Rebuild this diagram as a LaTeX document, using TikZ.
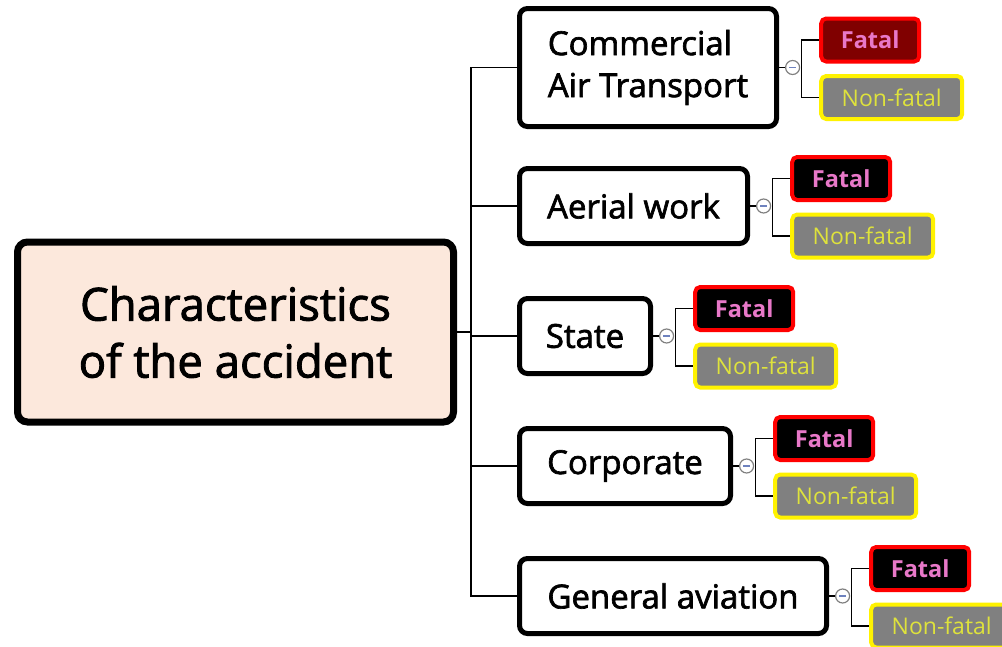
\documentclass[tikz,border=0pt]{standalone}
\usepackage{fontspec}
\setmainfont{Open Sans}
\newfontfamily\semib[FakeBold=2]{Open Sans}
\usepackage{tikz}
\usetikzlibrary{positioning}
\definecolor{RootPeach}{RGB}{252,232,220}
\definecolor{FatalDark}{RGB}{128,0,0}
\definecolor{FatalPink}{RGB}{232,120,200}
\definecolor{NonFatalGray}{RGB}{128,128,128}
\definecolor{NonFatalYellow}{RGB}{222,226,60}
\definecolor{MinusBlue}{RGB}{110,130,190}
\tikzset{
	root/.style={draw, line width=7pt, rounded corners=10pt, fill=RootPeach, align=center,
		minimum width=436pt, minimum height=180pt, font=\semib\fontsize{45.5}{57}\selectfont},
	kind/.style={draw, line width=5pt, rounded corners=8pt, fill=white, align=left, anchor=west,
		font=\semib\fontsize{33}{42}\selectfont},
	collapse/.style={circle, draw=gray, fill=white, line width=1.2pt, inner sep=0pt, minimum size=14pt,
		path picture={\draw[MinusBlue, line width=1.4pt] ([xshift=-3.5pt]path picture bounding box.center) -- ([xshift=3.5pt]path picture bounding box.center);}},
	fatal/.style={draw=red, line width=4pt, rounded corners=5pt, text=FatalPink, anchor=west,
		minimum width=98pt, minimum height=43pt, font=\bfseries\fontsize{23.5}{26}\selectfont},
	nonfatal/.style={draw=yellow, line width=4pt, rounded corners=5pt, fill=NonFatalGray, text=NonFatalYellow, anchor=west,
		minimum width=141pt, minimum height=43pt, font=\fontsize{23}{26}\selectfont},
	link/.style={draw, line width=1.3pt},
}

\begin{document}
\begin{tikzpicture}[x=1pt, y=-1pt]
	\useasboundingbox (0,0) rectangle (1002,646);

	\node[root] (root) at (235.5,332) {Characteristics\\of the accident};
	\coordinate (trunk) at (471,332);
	\draw[link] (root.east) -- (trunk);

	\foreach \n/\txt/\w/\h/\y/\fc in {cat/{Commercial\\Air Transport}/257/118/67.5/FatalDark,
		aer/{Aerial work}/228/75/206/black, sta/State/131/75/336/black,
		cor/Corporate/211/75/466/black, gen/{General aviation}/307/75/596/black}
	{
		\node[kind, minimum width=\w pt, minimum height=\h pt] (\n) at (517,\y) {\txt};
		\draw[link] (trunk) |- (\n.west);

		\node[collapse, right=6pt of \n] (m\n) {};
		\draw[link] (\n.east) -- (m\n.west);

		\node[fatal, fill=\fc] (f\n) at ([xshift=19pt, yshift=27.5pt]m\n.east) {Fatal};
		\node[nonfatal] (n\n) at ([xshift=19pt, yshift=-30pt]m\n.east) {Non-fatal};
		\draw[link] (f\n.west) -| ([xshift=1pt]m\n.east) |- (n\n.west);
	}
\end{tikzpicture}
\end{document}
